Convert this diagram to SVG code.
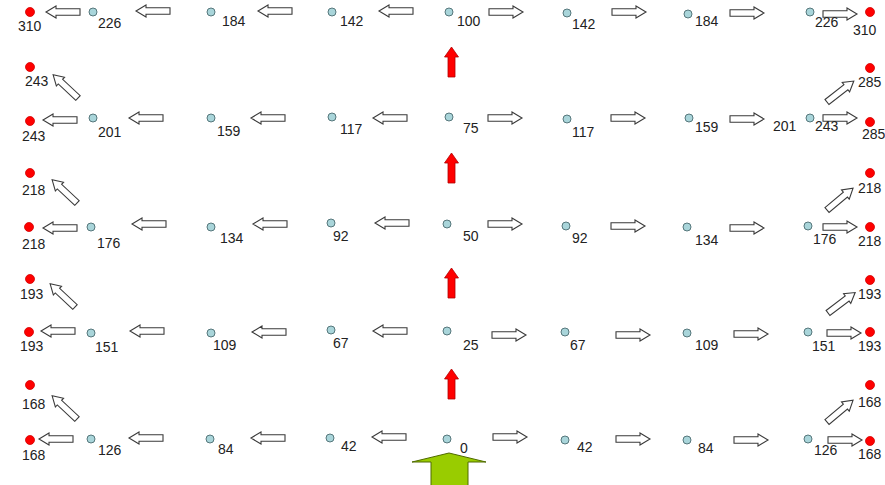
<svg xmlns="http://www.w3.org/2000/svg" xmlns:xlink="http://www.w3.org/1999/xlink" width="885" height="485" viewBox="0 0 885 485">
  <style>
    .pt { fill: #a9d5da; stroke: #56777b; stroke-width: 1; }
    .end { fill: #ff0000; stroke: #d00000; stroke-width: 0.8; }
    .lbl { font-family: "Liberation Sans", Arial, sans-serif; font-size: 14px; fill: #222; }
    .hollow { fill: #ffffff; stroke: #3a3a3a; stroke-width: 1.1; }
    .up { fill: #ff0000; stroke: #b00000; stroke-width: 0.8; }
  </style>
  <defs>
    <!-- hollow block arrow, tail at origin, pointing along +x -->
    <path id="blk" class="hollow" d="M0,-3.2 H24 V-6 L34,0 L24,6 V3.2 H0 Z"/>
    <!-- solid red up arrow, tip at origin -->
    <path id="redup" class="up" d="M0,0 L7,10 H3.5 V30 H-3.5 V10 H-7 Z"/>
  </defs>
  <rect width="885" height="485" fill="#ffffff"/>

  <g id="connectors">
    <!-- row 0 -->
    <use xlink:href="#blk" transform="translate(80,12) rotate(180)"/>
    <use xlink:href="#blk" transform="translate(170,11) rotate(180)"/>
    <use xlink:href="#blk" transform="translate(292,11) rotate(180)"/>
    <use xlink:href="#blk" transform="translate(413,11) rotate(180)"/>
    <use xlink:href="#blk" transform="translate(489,12)"/>
    <use xlink:href="#blk" transform="translate(612,12)"/>
    <use xlink:href="#blk" transform="translate(730,13)"/>
    <use xlink:href="#blk" transform="translate(823,14)"/>
    <!-- row 1 -->
    <use xlink:href="#blk" transform="translate(77,120) rotate(180)"/>
    <use xlink:href="#blk" transform="translate(163,118) rotate(180)"/>
    <use xlink:href="#blk" transform="translate(285,118) rotate(180)"/>
    <use xlink:href="#blk" transform="translate(407,118) rotate(180)"/>
    <use xlink:href="#blk" transform="translate(488,118)"/>
    <use xlink:href="#blk" transform="translate(611,118)"/>
    <use xlink:href="#blk" transform="translate(730,119)"/>
    <use xlink:href="#blk" transform="translate(823,118)"/>
    <use xlink:href="#blk" transform="translate(78,98) rotate(-137)"/>
    <use xlink:href="#blk" transform="translate(827,102) rotate(-38)"/>
    <!-- row 2 -->
    <use xlink:href="#blk" transform="translate(77,228) rotate(180)"/>
    <use xlink:href="#blk" transform="translate(166,224) rotate(180)"/>
    <use xlink:href="#blk" transform="translate(287,224) rotate(180)"/>
    <use xlink:href="#blk" transform="translate(409,223) rotate(180)"/>
    <use xlink:href="#blk" transform="translate(488,224)"/>
    <use xlink:href="#blk" transform="translate(611,226)"/>
    <use xlink:href="#blk" transform="translate(730,228)"/>
    <use xlink:href="#blk" transform="translate(823,227)"/>
    <use xlink:href="#blk" transform="translate(77,203) rotate(-137)"/>
    <use xlink:href="#blk" transform="translate(827,210) rotate(-40)"/>
    <!-- row 3 -->
    <use xlink:href="#blk" transform="translate(75,331) rotate(180)"/>
    <use xlink:href="#blk" transform="translate(164,331) rotate(180)"/>
    <use xlink:href="#blk" transform="translate(286,332) rotate(180)"/>
    <use xlink:href="#blk" transform="translate(407,331) rotate(180)"/>
    <use xlink:href="#blk" transform="translate(492,335)"/>
    <use xlink:href="#blk" transform="translate(616,335)"/>
    <use xlink:href="#blk" transform="translate(734,334)"/>
    <use xlink:href="#blk" transform="translate(827,333)"/>
    <use xlink:href="#blk" transform="translate(75,307) rotate(-137)"/>
    <use xlink:href="#blk" transform="translate(828,313) rotate(-37)"/>
    <!-- row 4 -->
    <use xlink:href="#blk" transform="translate(73,439) rotate(180)"/>
    <use xlink:href="#blk" transform="translate(163,438) rotate(180)"/>
    <use xlink:href="#blk" transform="translate(285,438) rotate(180)"/>
    <use xlink:href="#blk" transform="translate(406,437) rotate(180)"/>
    <use xlink:href="#blk" transform="translate(493,437)"/>
    <use xlink:href="#blk" transform="translate(616,439)"/>
    <use xlink:href="#blk" transform="translate(734,440)"/>
    <use xlink:href="#blk" transform="translate(828,440)"/>
    <use xlink:href="#blk" transform="translate(77,419) rotate(-137)"/>
    <use xlink:href="#blk" transform="translate(827,422) rotate(-40)"/>
    <!-- upward steps along the centre column -->
    <use xlink:href="#redup" transform="translate(451.5,47)"/>
    <use xlink:href="#redup" transform="translate(451.5,153)"/>
    <use xlink:href="#redup" transform="translate(451.5,268)"/>
    <use xlink:href="#redup" transform="translate(451.5,369)"/>
    <!-- entry arrow -->
    <path id="entry" d="M449,453 L486,462 H468 V486 H431 V462 H412 Z" fill="#99cc00" stroke="#4f6a00" stroke-width="1"/>
  </g>

  <!-- row 0 -->
  <g id="r0c0"><circle class="end" cx="30" cy="12" r="4.5"/><text class="lbl" x="18" y="31">310</text></g>
  <g id="r0c1"><circle class="pt" cx="93" cy="12" r="4"/><text class="lbl" x="98" y="28">226</text></g>
  <g id="r0c2"><circle class="pt" cx="211" cy="12" r="4"/><text class="lbl" x="222" y="26">184</text></g>
  <g id="r0c3"><circle class="pt" cx="332" cy="12" r="4"/><text class="lbl" x="340" y="26">142</text></g>
  <g id="r0c4"><circle class="pt" cx="449" cy="12" r="4"/><text class="lbl" x="457" y="26">100</text></g>
  <g id="r0c5"><circle class="pt" cx="567" cy="13" r="4"/><text class="lbl" x="572" y="29">142</text></g>
  <g id="r0c6"><circle class="pt" cx="688" cy="14" r="4"/><text class="lbl" x="695" y="26">184</text></g>
  <g id="r0c7"><circle class="pt" cx="810" cy="12" r="4"/><text class="lbl" x="815" y="27">226</text></g>
  <g id="r0c8"><circle class="end" cx="870" cy="12" r="4.5"/><text class="lbl" x="853" y="35">310</text></g>

  <!-- row 1 -->
  <g id="r1e0"><circle class="end" cx="30" cy="67" r="4.5"/><text class="lbl" x="25" y="86">243</text></g>
  <g id="r1e8"><circle class="end" cx="870" cy="68" r="4.5"/><text class="lbl" x="858" y="87">285</text></g>
  <g id="r1c0"><circle class="end" cx="30" cy="121" r="4.5"/><text class="lbl" x="22" y="141">243</text></g>
  <g id="r1c1"><circle class="pt" cx="93" cy="118" r="4"/><text class="lbl" x="98" y="137">201</text></g>
  <g id="r1c2"><circle class="pt" cx="211" cy="118" r="4"/><text class="lbl" x="217" y="136">159</text></g>
  <g id="r1c3"><circle class="pt" cx="332" cy="117" r="4"/><text class="lbl" x="340" y="134">117</text></g>
  <g id="r1c4"><circle class="pt" cx="449" cy="117" r="4"/><text class="lbl" x="463" y="133">75</text></g>
  <g id="r1c5"><circle class="pt" cx="567" cy="119" r="4"/><text class="lbl" x="572" y="137">117</text></g>
  <g id="r1c6"><circle class="pt" cx="689" cy="118" r="4"/><text class="lbl" x="695" y="132">159</text></g>
  <g id="r1x"><text class="lbl" x="773" y="131">201</text></g>
  <g id="r1c7"><circle class="pt" cx="810" cy="118" r="4"/><text class="lbl" x="815" y="131">243</text></g>
  <g id="r1c8"><circle class="end" cx="870" cy="122" r="4.5"/><text class="lbl" x="862" y="139">285</text></g>

  <!-- row 2 -->
  <g id="r2e0"><circle class="end" cx="30" cy="173" r="4.5"/><text class="lbl" x="22" y="195">218</text></g>
  <g id="r2e8"><circle class="end" cx="870" cy="173" r="4.5"/><text class="lbl" x="858" y="193">218</text></g>
  <g id="r2c0"><circle class="end" cx="29" cy="227" r="4.5"/><text class="lbl" x="22" y="249">218</text></g>
  <g id="r2c1"><circle class="pt" cx="91" cy="227" r="4"/><text class="lbl" x="97" y="248">176</text></g>
  <g id="r2c2"><circle class="pt" cx="211" cy="227" r="4"/><text class="lbl" x="220" y="243">134</text></g>
  <g id="r2c3"><circle class="pt" cx="331" cy="223" r="4"/><text class="lbl" x="333" y="241">92</text></g>
  <g id="r2c4"><circle class="pt" cx="447" cy="224" r="4"/><text class="lbl" x="463" y="241">50</text></g>
  <g id="r2c5"><circle class="pt" cx="566" cy="226" r="4"/><text class="lbl" x="572" y="243">92</text></g>
  <g id="r2c6"><circle class="pt" cx="687" cy="227" r="4"/><text class="lbl" x="695" y="245">134</text></g>
  <g id="r2c7"><circle class="pt" cx="808" cy="226" r="4"/><text class="lbl" x="813" y="244">176</text></g>
  <g id="r2c8"><circle class="end" cx="870" cy="227" r="4.5"/><text class="lbl" x="858" y="246">218</text></g>

  <!-- row 3 -->
  <g id="r3e0"><circle class="end" cx="30" cy="279" r="4.5"/><text class="lbl" x="20" y="299">193</text></g>
  <g id="r3e8"><circle class="end" cx="870" cy="280" r="4.5"/><text class="lbl" x="858" y="299">193</text></g>
  <g id="r3c0"><circle class="end" cx="29" cy="332" r="4.5"/><text class="lbl" x="20" y="351">193</text></g>
  <g id="r3c1"><circle class="pt" cx="91" cy="333" r="4"/><text class="lbl" x="95" y="352">151</text></g>
  <g id="r3c2"><circle class="pt" cx="211" cy="333" r="4"/><text class="lbl" x="213" y="350">109</text></g>
  <g id="r3c3"><circle class="pt" cx="331" cy="330" r="4"/><text class="lbl" x="333" y="348">67</text></g>
  <g id="r3c4"><circle class="pt" cx="447" cy="331" r="4"/><text class="lbl" x="463" y="350">25</text></g>
  <g id="r3c5"><circle class="pt" cx="565" cy="332" r="4"/><text class="lbl" x="570" y="350">67</text></g>
  <g id="r3c6"><circle class="pt" cx="687" cy="333" r="4"/><text class="lbl" x="695" y="350">109</text></g>
  <g id="r3c7"><circle class="pt" cx="808" cy="332" r="4"/><text class="lbl" x="812" y="351">151</text></g>
  <g id="r3c8"><circle class="end" cx="870" cy="332" r="4.5"/><text class="lbl" x="858" y="351">193</text></g>

  <!-- row 4 -->
  <g id="r4e0"><circle class="end" cx="30" cy="385" r="4.5"/><text class="lbl" x="22" y="409">168</text></g>
  <g id="r4e8"><circle class="end" cx="870" cy="385" r="4.5"/><text class="lbl" x="858" y="407">168</text></g>
  <g id="r4c0"><circle class="end" cx="30" cy="440" r="4.5"/><text class="lbl" x="22" y="460">168</text></g>
  <g id="r4c1"><circle class="pt" cx="91" cy="439" r="4"/><text class="lbl" x="98" y="455">126</text></g>
  <g id="r4c2"><circle class="pt" cx="210" cy="439" r="4"/><text class="lbl" x="218" y="454">84</text></g>
  <g id="r4c3"><circle class="pt" cx="330" cy="438" r="4"/><text class="lbl" x="341" y="451">42</text></g>
  <g id="r4c4"><circle class="pt" cx="447" cy="439" r="4"/><text class="lbl" x="460" y="453">0</text></g>
  <g id="r4c5"><circle class="pt" cx="565" cy="440" r="4"/><text class="lbl" x="577" y="452">42</text></g>
  <g id="r4c6"><circle class="pt" cx="687" cy="440" r="4"/><text class="lbl" x="698" y="453">84</text></g>
  <g id="r4c7"><circle class="pt" cx="808" cy="439" r="4"/><text class="lbl" x="814" y="455">126</text></g>
  <g id="r4c8"><circle class="end" cx="870" cy="441" r="4.5"/><text class="lbl" x="858" y="459">168</text></g>
</svg>
